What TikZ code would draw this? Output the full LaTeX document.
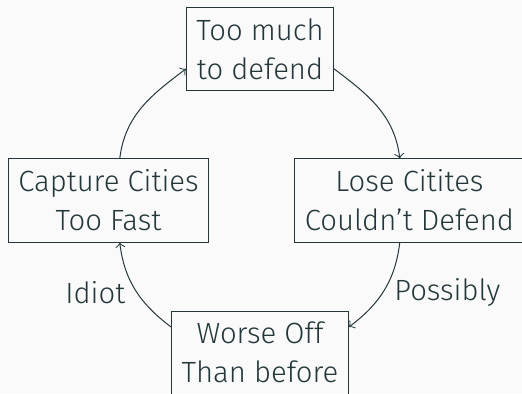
\documentclass[tikz,border=0pt]{standalone}
\usepackage{fontspec}
\setmainfont{Fira Sans Light}
\usepackage{tikz}

\definecolor{darkteal}{HTML}{23373B}
\definecolor{pagegray}{HTML}{FAFAFA}

\tikzset{
  box/.style={draw, align=center, minimum height=27.7pt, font=\fontsize{9.75}{13}\selectfont},
  lbl/.style={inner sep=2.5pt, yshift=-2pt, font=\fontsize{9.75}{13}\selectfont}
}

\begin{document}
\begin{tikzpicture}[darkteal, line width=0.33pt]
\fill[pagegray] (0,0) rectangle (6.115,4.604);
\useasboundingbox (0,0) rectangle (6.115,4.604);

\node[box] (much) at (3.046,4.030) {Too much\\to defend};
\node[box] (cap) at (1.271,2.255) {Capture Cities\\Too Fast};
\node[box] (lose) at (4.797,2.255) {Lose Citites\\Couldn't Defend};
\node[box] (worse) at (3.046,0.474) {Worse Off\\Than before};

\draw[->] (cap.75) to[out=83,in=217] (much.195);
\draw[->] (much.-15) to[out=-37,in=97] (lose.103);
\draw[->] (lose.257) to[out=263,in=37] node[lbl,right,pos=.45] {Possibly} (worse.16);
\draw[->] (worse.164) to[out=143,in=277] node[lbl,left,pos=.55] {Idiot} (cap.285);
\end{tikzpicture}
\end{document}
